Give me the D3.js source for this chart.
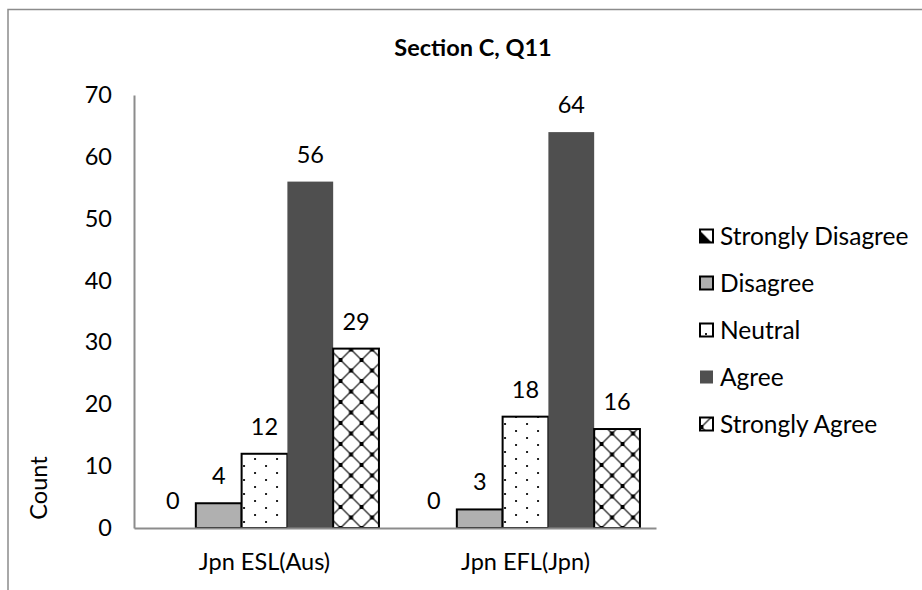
<!DOCTYPE html>
<html>
<head>
<meta charset="utf-8">
<script src="https://cdn.jsdelivr.net/npm/d3@7"></script>
<style>
  html, body { margin: 0; padding: 0; background: #fff; }
  svg { display: block; font-family: Lato, "Open Sans", sans-serif; }
</style>
</head>
<body>
<svg id="chart" width="922" height="590"></svg>
<script>
// Response counts per group for Section C, Q11
const groups = ["Jpn ESL(Aus)", "Jpn EFL(Jpn)"];
const responses = ["Strongly Disagree", "Disagree", "Neutral", "Agree", "Strongly Agree"];
const eslAus = [0, 4, 12, 56, 29];
const eflJpn = [0, 3, 18, 64, 16];
const yTicks = [0, 10, 20, 30, 40, 50, 60, 70];
const title = "Section C, Q11";
const yTitle = "Count";

const seriesByGroup = [eslAus, eflJpn];

const svg = d3.select("#chart");
const defs = svg.append("defs");

// Fill patterns for each response category
const sd = defs.append("pattern").attr("id", "p-sd")
  .attr("patternUnits", "objectBoundingBox").attr("patternContentUnits", "objectBoundingBox")
  .attr("width", 1).attr("height", 1);
sd.append("rect").attr("width", 1).attr("height", 1).attr("fill", "#fff");
sd.append("path").attr("d", "M0,0.1 L0.9,1 L0,1 Z").attr("fill", "#000");

const neu = defs.append("pattern").attr("id", "p-neu")
  .attr("patternUnits", "userSpaceOnUse").attr("width", 22).attr("height", 14)
  .attr("x", 5).attr("y", 3);
neu.append("rect").attr("width", 22).attr("height", 14).attr("fill", "#fff");
neu.append("rect").attr("x", 0).attr("y", 0).attr("width", 2).attr("height", 2).attr("fill", "#222");
neu.append("rect").attr("x", 11).attr("y", 7).attr("width", 2).attr("height", 2).attr("fill", "#222");

const sa = defs.append("pattern").attr("id", "p-sa")
  .attr("patternUnits", "userSpaceOnUse").attr("width", 21).attr("height", 21)
  .attr("x", 1.5).attr("y", 3);
sa.append("rect").attr("width", 21).attr("height", 21).attr("fill", "#fff");
sa.append("path").attr("d", "M0,0 L21,21 M21,0 L0,21")
  .attr("stroke", "#333").attr("stroke-width", 1.4);
[[0,0],[21,0],[0,21],[21,21],[10.5,10.5]].forEach(([x, y]) =>
  sa.append("rect").attr("x", x - 2).attr("y", y - 2).attr("width", 4).attr("height", 4).attr("fill", "#000"));

const fills = ["url(#p-sd)", "#b0b0b0", "url(#p-neu)", "#4f4f4f", "url(#p-sa)"];
const strokes = ["#000", "#000", "#000", "none", "#000"];

// Outer frame (top and left edges visible)
svg.append("path").attr("d", "M8,590 L8,9.5 L922,9.5")
  .attr("fill", "none").attr("stroke", "#8c8c8c").attr("stroke-width", 1.5);

const plot = { left: 134, right: 656, top: 95, bottom: 528 };

const x0 = d3.scaleBand().domain(groups).range([plot.left, plot.right]).paddingInner(0.123).paddingOuter(0.0615);
const x1 = d3.scaleBand().domain(responses).range([0, x0.bandwidth()]);
const y = d3.scaleLinear().domain([0, 70]).range([plot.bottom, plot.top]);

// Title
svg.append("text").attr("x", 473).attr("y", 56).attr("text-anchor", "middle")
  .attr("font-weight", "bold").attr("font-size", 23.5).attr("fill", "#000").text(title);

// Y axis
const yAxis = svg.append("g").attr("transform", `translate(${plot.left},0)`)
  .call(d3.axisLeft(y).tickValues(yTicks).tickSize(0).tickPadding(22));
yAxis.select(".domain").attr("stroke", "#8c8c8c").attr("stroke-width", 2);
yAxis.selectAll("text").attr("font-size", 23.5).attr("font-family", "Lato, sans-serif").attr("fill", "#000");

// Bars
const gGroups = svg.append("g").selectAll("g").data(groups).join("g")
  .attr("transform", d => `translate(${x0(d)},0)`);

gGroups.selectAll("rect").data((g, i) => seriesByGroup[i].map((v, j) => ({ v, j })))
  .join("rect")
  .attr("x", d => x1(responses[d.j]))
  .attr("y", d => y(d.v))
  .attr("width", x1.bandwidth())
  .attr("height", d => y(0) - y(d.v))
  .attr("fill", d => fills[d.j])
  .attr("stroke", d => d.v > 0 ? strokes[d.j] : "none")
  .attr("stroke-width", 2);

// Value labels
gGroups.selectAll("text.val").data((g, i) => seriesByGroup[i].map((v, j) => ({ v, j })))
  .join("text").attr("class", "val")
  .attr("x", d => x1(responses[d.j]) + x1.bandwidth() / 2)
  .attr("y", d => y(d.v) - 19)
  .attr("text-anchor", "middle").attr("font-size", 23.5).attr("fill", "#000")
  .text(d => d.v);

// X axis (baseline + category labels)
const xAxis = svg.append("g").attr("transform", `translate(0,${plot.bottom})`)
  .call(d3.axisBottom(x0).tickSize(0).tickPadding(25).tickSizeOuter(0));
xAxis.select(".domain").attr("stroke", "#8c8c8c").attr("stroke-width", 2);
xAxis.selectAll("text").attr("font-size", 23.5).attr("font-family", "Lato, sans-serif").attr("fill", "#000");

// Y axis title
svg.append("text").attr("transform", "translate(47,488) rotate(-90)")
  .attr("text-anchor", "middle").attr("font-size", 23.5).attr("fill", "#000").text(yTitle);

// Legend
const legend = svg.append("g").selectAll("g").data(responses).join("g")
  .attr("transform", (d, i) => `translate(700,${236 + i * 47})`);
legend.append("rect").attr("x", 0).attr("y", -6.5).attr("width", 13).attr("height", 13)
  .attr("fill", (d, i) => fills[i])
  .attr("stroke", (d, i) => strokes[i] === "none" ? "none" : "#000").attr("stroke-width", 2);
legend.append("text").attr("x", 20).attr("y", 8.5)
  .attr("font-size", 24.5).attr("fill", "#000").text(d => d);
</script>
</body>
</html>
